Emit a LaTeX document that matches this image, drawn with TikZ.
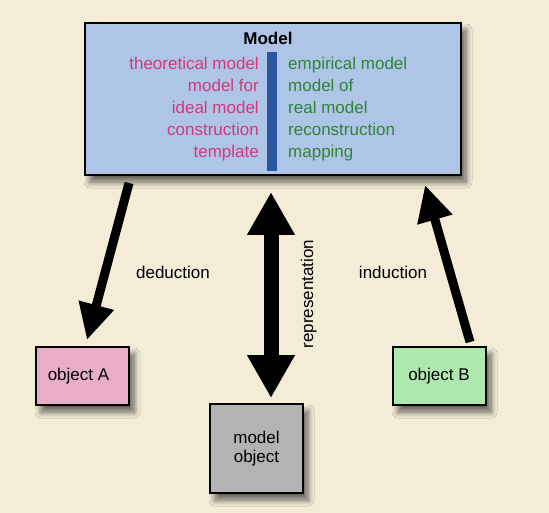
\documentclass[tikz,border=0pt]{standalone}
\usepackage{fontspec}
\setmainfont{Liberation Sans}
\usetikzlibrary{arrows.meta,shadows.blur}
\definecolor{bgc}{HTML}{F3EDD7}
\definecolor{modelfill}{HTML}{AFC5E8}
\definecolor{pinktxt}{HTML}{D2397A}
\definecolor{greentxt}{HTML}{2E8535}
\definecolor{barblue}{HTML}{2A56A0}
\definecolor{afill}{HTML}{E8AEC6}
\definecolor{bfill}{HTML}{AEE8AE}
\definecolor{gfill}{HTML}{B3B3B3}
\tikzset{
  box/.style={draw=black, line width=1.2pt, inner sep=0pt, outer sep=0pt,
    blur shadow={shadow xshift=5pt, shadow yshift=-7pt, shadow blur radius=6pt, shadow blur steps=10, shadow opacity=60}},
  lbl/.style={font=\fontsize{17}{20}\selectfont, inner sep=0pt},
  ltxt/.style={lbl, text=pinktxt, anchor=base east},
  rtxt/.style={lbl, text=greentxt, anchor=base west},
  thin arrow/.style={line width=9pt, -{Triangle[length=36pt,width=34pt]}},
  thick arrow/.style={line width=15pt, {Triangle[length=43pt,width=45pt]}-{Triangle[length=43pt,width=45pt]}},
}
\begin{document}
\begin{tikzpicture}[x=1pt,y=-1pt]
\fill[bgc] (0,0) rectangle (549,513);
\useasboundingbox (0,0) rectangle (549,513);
% model box
\node[box, fill=modelfill, minimum width=376pt, minimum height=152pt] (model) at (273,99) {};
\node[lbl, anchor=base, font=\fontsize{17}{20}\selectfont\bfseries] (title) at (268,45) {Model};
\fill[barblue] (267,52) rectangle (277,171);
\node[ltxt] (l1) at (259,70) {theoretical model};
\node[ltxt] (l2) at (259,92) {model for};
\node[ltxt] (l3) at (259,114) {ideal model};
\node[ltxt] (l4) at (259,136) {construction};
\node[ltxt] (l5) at (259,158) {template};
\node[rtxt] (r1) at (288,70) {empirical model};
\node[rtxt] (r2) at (288,92) {model of};
\node[rtxt] (r3) at (288,114) {real model};
\node[rtxt] (r4) at (288,136) {reconstruction};
\node[rtxt] (r5) at (288,158) {mapping};
% object boxes
\node[box, fill=afill, minimum width=93pt, minimum height=58pt, font=\fontsize{17}{20}\selectfont] (objA) at (82.5,376) {object A\hspace*{8pt}};
\node[box, fill=bfill, minimum width=93pt, minimum height=58pt, font=\fontsize{17}{20}\selectfont] (objB) at (439.5,376) {object B\hspace*{1pt}};
\node[box, fill=gfill, minimum width=93pt, minimum height=89pt, font=\fontsize{17}{20}\selectfont, align=center] (mobj) at (256.5,448.5) {model\\[-1pt]object};
% arrow end points
\coordinate (dedS) at (129,183);
\coordinate (dedE) at (87,340);
\coordinate (indS) at (470,342);
\coordinate (indE) at (425,185);
\coordinate (repT) at (271,192);
\coordinate (repB) at (271,398);
\draw[thin arrow] (dedS) -- (dedE);
\draw[thin arrow] (indS) -- (indE);
\draw[thick arrow] (repT) -- (repB);
% labels
\node[lbl, anchor=base] (ded) at (173,278) {deduction};
\node[lbl, anchor=base] (ind) at (393,278) {induction};
\node[lbl, rotate=90, anchor=base] (rep) at (313,294) {representation};
\end{tikzpicture}
\end{document}
